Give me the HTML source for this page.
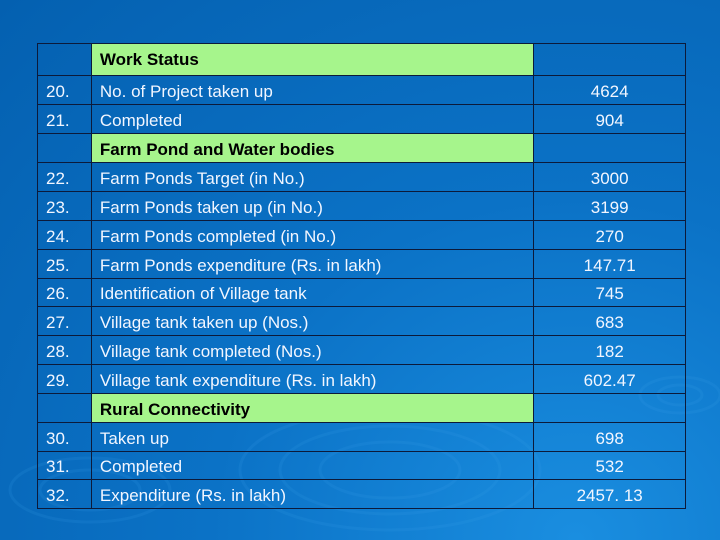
<!DOCTYPE html>
<html><head><meta charset="utf-8"><style>
body{margin:0;width:720px;height:540px;overflow:hidden;background:radial-gradient(ellipse at 80% 100%,#1a8ee0 0%,#0b72c6 45%,#0460b0 100%);font-family:"Liberation Sans",Arial,sans-serif;position:relative}
svg.bg{position:absolute;left:0;top:0}
table{position:absolute;left:37px;top:43px;width:649px;border-collapse:collapse;color:#f2f6ff;font-size:17px}
td{border:1px solid #0c1a3a;height:29px;padding:3px 0 0 8px;box-sizing:border-box;white-space:nowrap}
tr.s td{height:28px}
td.n{width:54px}td.d{width:443px}td.v{width:152px;text-align:center;padding:3px 0 0 0}
tr.h td.d{background:#a6f58c;color:#000;font-weight:bold}
tr.first td{height:32px;padding-top:0}
</style></head><body>
<svg class="bg" width="720" height="540">
<g fill="none" stroke="#3aa0ee" stroke-opacity="0.15" stroke-width="3">
<ellipse cx="390" cy="470" rx="150" ry="60"/><ellipse cx="390" cy="470" rx="110" ry="44"/><ellipse cx="390" cy="470" rx="70" ry="28"/>
<ellipse cx="90" cy="490" rx="80" ry="32"/><ellipse cx="90" cy="490" rx="50" ry="20"/>
<ellipse cx="680" cy="395" rx="40" ry="18"/><ellipse cx="680" cy="395" rx="22" ry="10"/>
</g></svg>
<table>
<tr class="h first"><td class="n"></td><td class="d">Work Status</td><td class="v"></td></tr>
<tr><td class="n">20.</td><td class="d">No. of Project taken up</td><td class="v">4624</td></tr>
<tr><td class="n">21.</td><td class="d">Completed</td><td class="v">904</td></tr>
<tr class="h"><td class="n"></td><td class="d">Farm Pond and Water bodies</td><td class="v"></td></tr>
<tr><td class="n">22.</td><td class="d">Farm Ponds Target (in No.)</td><td class="v">3000</td></tr>
<tr><td class="n">23.</td><td class="d">Farm Ponds taken up (in No.)</td><td class="v">3199</td></tr>
<tr><td class="n">24.</td><td class="d">Farm Ponds completed (in No.)</td><td class="v">270</td></tr>
<tr><td class="n">25.</td><td class="d">Farm Ponds expenditure (Rs. in lakh)</td><td class="v">147.71</td></tr>
<tr class="s"><td class="n">26.</td><td class="d">Identification of Village tank</td><td class="v">745</td></tr>
<tr><td class="n">27.</td><td class="d">Village tank taken up (Nos.)</td><td class="v">683</td></tr>
<tr><td class="n">28.</td><td class="d">Village tank completed (Nos.)</td><td class="v">182</td></tr>
<tr><td class="n">29.</td><td class="d">Village tank expenditure (Rs. in lakh)</td><td class="v">602.47</td></tr>
<tr class="h"><td class="n"></td><td class="d">Rural Connectivity</td><td class="v"></td></tr>
<tr><td class="n">30.</td><td class="d">Taken up</td><td class="v">698</td></tr>
<tr class="s"><td class="n">31.</td><td class="d">Completed</td><td class="v">532</td></tr>
<tr><td class="n">32.</td><td class="d">Expenditure (Rs. in lakh)</td><td class="v">2457. 13</td></tr>
</table>
</body></html>
